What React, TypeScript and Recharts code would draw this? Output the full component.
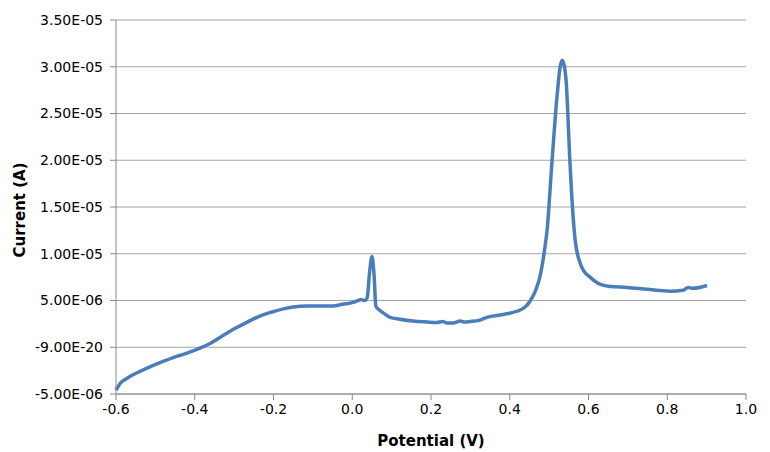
import React from "react"
import { LineChart, Line, XAxis, YAxis, CartesianGrid } from "recharts"

// scan data: potential (V) and current (µA)
const potential = [
  -0.6, -0.59, -0.575, -0.564, -0.54, -0.514, -0.485, -0.455, -0.425, -0.399,
  -0.361, -0.33, -0.303, -0.275, -0.252, -0.225, -0.201, -0.175, -0.15, -0.115,
  -0.08, -0.049, -0.025, 0.002, 0.015, 0.022, 0.032, 0.038, 0.044, 0.05,
  0.055, 0.06, 0.068, 0.078, 0.096, 0.121, 0.154, 0.19, 0.215, 0.23,
  0.24, 0.256, 0.274, 0.285, 0.299, 0.324, 0.342, 0.383, 0.418, 0.439,
  0.451, 0.465, 0.477, 0.487, 0.495, 0.507, 0.52, 0.528, 0.533, 0.538,
  0.543, 0.553, 0.56, 0.566, 0.578, 0.586, 0.604, 0.622, 0.655, 0.698,
  0.749, 0.807, 0.84, 0.853, 0.865, 0.901,
]
const currentMicroA = [
  -4.6, -3.9, -3.4, -3.1, -2.6, -2.1, -1.6, -1.1, -0.7, -0.3,
  0.4, 1.2, 1.9, 2.5, 3.0, 3.5, 3.8, 4.1, 4.3, 4.4,
  4.4, 4.4, 4.6, 4.8, 5.0, 5.1, 5.0, 5.3, 8.0, 9.7,
  8.0, 4.4, 4.0, 3.7, 3.2, 3.0, 2.8, 2.7, 2.65, 2.75,
  2.6, 2.6, 2.8, 2.7, 2.75, 2.9, 3.2, 3.5, 3.85, 4.3,
  4.9, 6.0, 7.6, 10.0, 12.6, 19.7, 26.8, 30.0, 30.7, 30.2,
  28.6, 19.7, 14.5, 11.5, 9.1, 8.3, 7.5, 6.9, 6.5, 6.4,
  6.2, 6.0, 6.1, 6.4, 6.3, 6.6,
]

const xTicks = [-0.6, -0.4, -0.2, 0, 0.2, 0.4, 0.6, 0.8, 1.0]
const yTicks = [-5e-6, 0, 5e-6, 1e-5, 1.5e-5, 2e-5, 2.5e-5, 3e-5, 3.5e-5]
const yTickLabels = [
  "-5.00E-06", "-9.00E-20", "5.00E-06", "1.00E-05", "1.50E-05",
  "2.00E-05", "2.50E-05", "3.00E-05", "3.50E-05",
]

const data = potential.map((v, i) => ({ v, i: currentMicroA[i] * 1e-6 }))

const font = "DejaVu Sans"

export default function App() {
  return (
    <div style={{ position: "absolute", left: 0, top: 0, background: "#fff" }}>
      <LineChart width={770} height={452} data={data} margin={{ top: 20, right: 24, bottom: 6, left: 40 }}>
        <CartesianGrid vertical={false} stroke="#a6a6a6" strokeWidth={1} />
        <XAxis
          dataKey="v"
          type="number"
          domain={[-0.6, 1.0]}
          ticks={xTicks}
          tickFormatter={(t: number) => t.toFixed(1)}
          height={52}
          tickSize={6}
          tickMargin={4}
          stroke="#888"
          tick={{ fill: "#000", fontSize: 14, fontFamily: font }}
          label={{ value: "Potential (V)", position: "insideBottom", offset: 0, fill: "#000", fontSize: 15, fontWeight: "bold", fontFamily: font }}
        />
        <YAxis
          dataKey="i"
          type="number"
          domain={[-5e-6, 3.5e-5]}
          ticks={yTicks}
          tickFormatter={(t: number) => yTickLabels[yTicks.findIndex((y) => Math.abs(y - t) < 1e-9)] ?? ""}
          width={76}
          tickSize={6}
          tickMargin={7}
          stroke="#888"
          tick={{ fill: "#000", fontSize: 14, fontFamily: font }}
          label={{
            content: () => (
              <text x={25} y={210} transform="rotate(-90 25 210)" textAnchor="middle" fill="#000" fontSize={15} fontWeight="bold" fontFamily={font}>
                Current (A)
              </text>
            ),
          }}
        />
        <Line type="monotone" dataKey="i" stroke="#4a7ebb" strokeWidth={3.5} dot={false} isAnimationActive={false} />
      </LineChart>
    </div>
  )
}
